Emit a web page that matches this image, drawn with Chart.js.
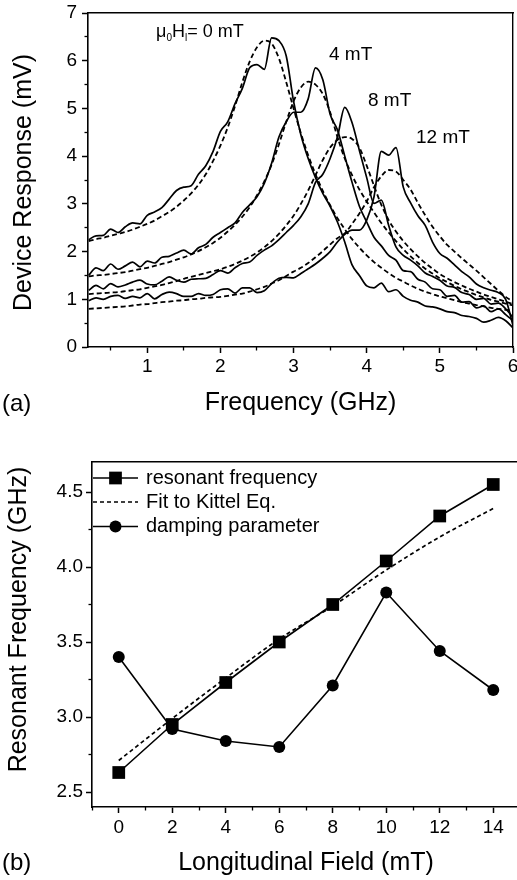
<!DOCTYPE html>
<html><head><meta charset="utf-8">
<script src="https://cdn.jsdelivr.net/npm/chart.js@4.4.1/dist/chart.umd.min.js"></script>
<style>
html,body{margin:0;padding:0;background:#fff;width:517px;height:880px;overflow:hidden;position:relative;font-family:'Liberation Sans',Arial,sans-serif;color:#000;}
#wa{position:absolute;left:0;top:0;width:517px;height:420px;}
#wb{position:absolute;left:0;top:440px;width:540px;height:440px;}
.lbl{position:absolute;white-space:nowrap;line-height:1;}
.lbl sub{font-size:10px;vertical-align:-4px;line-height:0;}
.rot{position:absolute;width:400px;height:25px;line-height:25px;font-size:25px;text-align:center;white-space:nowrap;transform:rotate(-90deg);}
</style></head><body>
<div id="wa"><canvas id="ca"></canvas></div>
<div id="wb"><canvas id="cb"></canvas></div>
<div class="lbl" style="left:156px;top:22px;font-size:18px">&mu;<sub>0</sub>H<sub>l</sub>= 0 mT</div>
<div class="lbl" style="left:329px;top:44px;font-size:19px">4 mT</div>
<div class="lbl" style="left:368px;top:90px;font-size:19px">8 mT</div>
<div class="lbl" style="left:416px;top:127px;font-size:19px">12 mT</div>
<div class="lbl" style="left:2px;top:391px;font-size:24px">(a)</div>
<div class="lbl" style="left:2px;top:850px;font-size:24px">(b)</div>
<div class="rot" style="left:-178px;top:170px">Device Response (mV)</div>
<div class="rot" style="left:-183px;top:607px">Resonant Frequency (GHz)</div>
<script>
// ---------- Panel (a) data ----------
const freqGHz = [0.2,0.3,0.4,0.5,0.6,0.7,0.8,0.9,1.0,1.1,
 1.2,1.3,1.4,1.5,1.6,1.7,1.8,1.9,2.0,2.1,
 2.2,2.3,2.4,2.5,2.6,2.7,2.8,2.9,3.0,3.1,
 3.2,3.3,3.4,3.5,3.6,3.7,3.8,3.9,4.0,4.1,
 4.2,4.3,4.4,4.5,4.6,4.7,4.8,4.9,5.0,5.1,
 5.2,5.3,5.4,5.5,5.6,5.7,5.8,5.9,6.0];
const resp0mT = [2.25,2.33,2.34,2.47,2.40,2.52,2.60,2.58,2.76,2.83,
 2.92,3.10,3.28,3.35,3.38,3.62,3.80,4.10,4.52,4.72,
 5.10,5.42,5.85,5.92,5.82,6.48,6.42,6.10,5.15,4.45,
 3.95,3.55,3.22,2.95,2.62,2.20,1.72,1.50,1.28,1.24,
 1.34,1.16,1.20,1.06,0.98,0.94,0.86,0.84,0.80,0.74,
 0.72,0.66,0.64,0.60,0.52,0.56,0.62,0.55,0.40];
const fit0mT = [2.22,2.26,2.29,2.33,2.37,2.41,2.46,2.52,2.58,2.65,
 2.74,2.83,2.94,3.07,3.22,3.40,3.62,3.90,4.22,4.60,
 5.05,5.55,5.98,6.28,6.42,6.36,6.05,5.55,5.00,4.48,
 4.02,3.62,3.27,2.97,2.70,2.47,2.26,2.08,1.92,1.78,
 1.66,1.55,1.45,1.37,1.29,1.22,1.16,1.11,1.06,1.02,
 0.98,0.94,0.91,0.88,0.85,0.82,0.80,0.78,0.76];
const resp4mT = [1.50,1.66,1.60,1.74,1.63,1.70,1.78,1.68,1.80,1.76,
 1.88,1.90,1.97,2.03,1.95,2.08,2.15,2.30,2.40,2.50,
 2.60,2.82,2.98,3.15,3.43,3.85,4.40,4.72,4.92,4.92,
 5.20,5.85,5.60,4.88,4.55,4.00,3.45,2.95,2.62,2.30,
 2.12,1.92,1.82,1.60,1.58,1.42,1.36,1.22,1.20,1.06,
 1.08,0.94,0.95,0.82,0.86,0.74,0.80,0.68,0.55];
const fit4mT = [1.48,1.50,1.51,1.53,1.55,1.57,1.60,1.63,1.66,1.70,
 1.74,1.78,1.83,1.88,1.94,2.01,2.09,2.18,2.29,2.42,
 2.56,2.73,2.93,3.18,3.47,3.82,4.25,4.72,5.15,5.44,
 5.56,5.50,5.30,4.92,4.40,3.95,3.60,3.30,3.05,2.82,
 2.60,2.40,2.22,2.05,1.90,1.76,1.64,1.54,1.44,1.36,
 1.28,1.21,1.15,1.09,1.04,0.99,0.95,0.91,0.87];
const resp8mT = [1.19,1.29,1.22,1.33,1.26,1.30,1.36,1.40,1.32,1.30,
 1.38,1.47,1.40,1.36,1.42,1.43,1.44,1.52,1.60,1.55,
 1.66,1.75,1.78,1.92,2.03,2.12,2.25,2.40,2.55,2.73,
 3.00,3.45,3.62,3.95,4.40,5.02,4.70,4.12,3.55,3.01,
 3.08,2.55,2.10,1.92,1.82,1.70,1.55,1.48,1.40,1.28,
 1.25,1.14,1.10,1.00,1.02,0.90,0.92,0.80,0.62];
const fit8mT = [1.11,1.12,1.13,1.14,1.15,1.17,1.19,1.21,1.24,1.27,
 1.30,1.34,1.38,1.43,1.47,1.51,1.55,1.59,1.63,1.68,
 1.74,1.81,1.89,1.98,2.09,2.22,2.37,2.55,2.75,3.00,
 3.28,3.60,3.92,4.18,4.34,4.40,4.36,4.18,3.80,3.38,
 2.98,2.66,2.42,2.22,2.05,1.90,1.76,1.64,1.53,1.44,
 1.36,1.29,1.22,1.16,1.10,1.05,1.00,0.95,0.90];
const resp12mT = [0.97,1.03,1.00,1.06,1.08,1.02,1.06,1.03,1.12,1.01,
 1.10,1.15,1.12,1.06,1.06,1.12,1.08,1.10,1.20,1.22,
 1.13,1.24,1.24,1.14,1.18,1.33,1.44,1.46,1.45,1.54,
 1.64,1.74,1.86,2.00,2.20,2.36,2.45,2.45,2.66,3.15,
 4.10,4.02,4.18,3.35,3.02,2.75,2.55,2.20,1.96,1.86,
 1.72,1.58,1.47,1.32,1.24,1.19,1.14,1.00,0.45];
const fit12mT = [0.80,0.81,0.82,0.83,0.84,0.85,0.87,0.89,0.90,0.92,
 0.94,0.95,0.97,0.98,1.00,1.01,1.03,1.04,1.05,1.07,
 1.10,1.12,1.16,1.21,1.26,1.33,1.40,1.49,1.58,1.66,
 1.76,1.88,2.01,2.15,2.28,2.38,2.58,2.80,3.05,3.35,
 3.58,3.71,3.68,3.50,3.30,3.02,2.76,2.52,2.32,2.14,
 2.00,1.86,1.73,1.60,1.46,1.32,1.18,1.05,0.95];
const aXTicks = [1,2,3,4,5,6];
const aXLabels = ['1','2','3','4','5','6'];
const aXMinor = [0.5,1.5,2.5,3.5,4.5,5.5];
const aYTicks = [0,1,2,3,4,5,6,7];
const aYLabels = ['0','1','2','3','4','5','6','7'];
const aYMinor = [0.5,1.5,2.5,3.5,4.5,5.5,6.5];

// ---------- Panel (b) data ----------
const fieldMT = [0,2,4,6,8,10,12,14];
const resonantGHz = [2.63,2.95,3.23,3.50,3.75,4.04,4.34,4.55];
const kittelFitGHz = [2.71,2.99,3.26,3.52,3.74,3.98,4.20,4.39];
const dampingParam = [3.40,2.92,2.84,2.80,3.21,3.83,3.44,3.18];
const bXTicks = [0,2,4,6,8,10,12,14];
const bXLabels = ['0','2','4','6','8','10','12','14'];
const bXMinor = [-1,1,3,5,7,9,11,13,15];
const bYTicks = [2.5,3.0,3.5,4.0,4.5];
const bYLabels = ['2.5','3.0','3.5','4.0','4.5'];
const bYMinor = [2.75,3.25,3.75,4.25];

Chart.defaults.font.family = "'Liberation Sans', Arial, sans-serif";
Chart.defaults.color = '#000';

function setTicks(arr){ return s => { s.ticks = arr.map(v => ({value: v})); }; }
function fitH(h){ return s => { s.height = h; s.paddingLeft = 0; s.paddingRight = 0; }; }
function fitW(w){ return s => { s.width = w; s.paddingTop = 0; s.paddingBottom = 0; }; }

function axes(cfg){
  const o = {};
  o.x = {type:'linear', min:cfg.xmin, max:cfg.xmax, position:'bottom', weight:2,
    afterBuildTicks:setTicks(cfg.xt), afterFit:fitH(cfg.xh),
    ticks:{callback:(v,i)=>cfg.xl[i], font:{size:19}, color:'#000', padding:cfg.xpad, maxRotation:0, autoSkip:false},
    grid:{drawOnChartArea:false, drawTicks:true, tickLength:6, tickWidth:1.5, tickColor:'#000'},
    border:{display:true, color:'#000', width:1.6},
    title:{display:true, text:cfg.xtitle, font:{size:25}, color:'#000', padding:{top:0, bottom:cfg.tpad}}};
  o.xMinor = {type:'linear', min:cfg.xmin, max:cfg.xmax, position:'bottom', weight:1,
    afterBuildTicks:setTicks(cfg.xm), afterFit:fitH(0),
    ticks:{display:false}, grid:{drawOnChartArea:false, drawTicks:true, tickLength:3.5, tickWidth:1.3, tickColor:'#000'},
    border:{display:false}};
  o.xTop = {type:'linear', min:cfg.xmin, max:cfg.xmax, position:'top',
    afterBuildTicks:setTicks([]), afterFit:fitH(0),
    ticks:{display:false}, grid:{drawOnChartArea:false, drawTicks:false},
    border:{display:true, color:'#000', width:1.4}};
  o.y = {type:'linear', min:cfg.ymin, max:cfg.ymax, position:'left', weight:2,
    afterBuildTicks:setTicks(cfg.yt), afterFit:fitW(cfg.yw),
    ticks:{callback:(v,i)=>cfg.yl[i], font:{size:19}, color:'#000', padding:cfg.ypad, autoSkip:false},
    grid:{drawOnChartArea:false, drawTicks:true, tickLength:6, tickWidth:1.5, tickColor:'#000'},
    border:{display:true, color:'#000', width:1.6}};
  o.yMinor = {type:'linear', min:cfg.ymin, max:cfg.ymax, position:'left', weight:1,
    afterBuildTicks:setTicks(cfg.ym), afterFit:fitW(0),
    ticks:{display:false}, grid:{drawOnChartArea:false, drawTicks:true, tickLength:3.5, tickWidth:1.3, tickColor:'#000'},
    border:{display:false}};
  o.yRight = {type:'linear', min:cfg.ymin, max:cfg.ymax, position:'right',
    afterBuildTicks:setTicks([]), afterFit:fitW(0),
    ticks:{display:false}, grid:{drawOnChartArea:false, drawTicks:false},
    border:{display:true, color:'#000', width:1.4}};
  return o;
}

function curve(vals, dashed){
  return {data: freqGHz.map((f,i)=>({x:f, y:vals[i]})),
    borderColor:'#000', borderWidth: dashed ? 1.8 : 1.7, borderDash: dashed ? [5,3] : [],
    pointRadius:0, cubicInterpolationMode:'monotone', fill:false};
}

new Chart(document.getElementById('ca'), {
  type:'line',
  data:{datasets:[
    curve(resp0mT,false), curve(fit0mT,true),
    curve(resp4mT,false), curve(fit4mT,true),
    curve(resp8mT,false), curve(fit8mT,true),
    curve(resp12mT,false), curve(fit12mT,true)
  ]},
  options:{responsive:true, maintainAspectRatio:false, animation:false,
    layout:{padding:{left:0, top:13, right:4, bottom:0}},
    plugins:{legend:{display:false}, tooltip:{enabled:false}},
    scales: axes({xmin:0.19, xmax:6.0, xt:aXTicks, xl:aXLabels, xm:aXMinor, xh:73, xpad:2,
      xtitle:'Frequency (GHz)', tpad:2,
      ymin:0, ymax:7, yt:aYTicks, yl:aYLabels, ym:aYMinor, yw:88, ypad:5})
  }
});

const legendB = {
  id:'legendB',
  afterDraw(chart){
    const {ctx, chartArea} = chart;
    const rows = [16, 40, 64.5];
    ctx.save();
    chart.data.datasets.forEach((ds,i)=>{
      const y = chartArea.top + rows[i];
      const x0 = chartArea.left + 1, x1 = chartArea.left + 46;
      ctx.strokeStyle = '#000'; ctx.lineWidth = 1.6;
      ctx.setLineDash(ds.borderDash || []);
      ctx.beginPath(); ctx.moveTo(x0,y); ctx.lineTo(x1,y); ctx.stroke();
      ctx.setLineDash([]);
      if (ds.pointRadius > 0) {
        ctx.fillStyle = '#000';
        Chart.helpers.drawPoint(ctx, {pointStyle:ds.pointStyle, radius:ds.pointRadius, rotation:0, borderWidth:0}, (x0+x1)/2, y);
      }
      ctx.font = "20px 'Liberation Sans', Arial, sans-serif";
      ctx.fillStyle = '#000'; ctx.textBaseline = 'middle'; ctx.textAlign = 'left';
      ctx.fillText(ds.label, chartArea.left + 54, y);
    });
    ctx.restore();
  }
};

new Chart(document.getElementById('cb'), {
  type:'line',
  data:{datasets:[
    {label:'resonant frequency', data: fieldMT.map((x,i)=>({x, y:resonantGHz[i]})),
      borderColor:'#000', backgroundColor:'#000', borderWidth:1.6, pointStyle:'rect', pointRadius:9,
      pointBorderWidth:0, tension:0},
    {label:'Fit to Kittel Eq.', data: fieldMT.map((x,i)=>({x, y:kittelFitGHz[i]})),
      borderColor:'#000', borderWidth:1.7, borderDash:[4,3], pointRadius:0, cubicInterpolationMode:'monotone'},
    {label:'damping parameter', data: fieldMT.map((x,i)=>({x, y:dampingParam[i]})),
      borderColor:'#000', backgroundColor:'#000', borderWidth:1.6, pointStyle:'circle', pointRadius:6,
      pointBorderWidth:0, tension:0}
  ]},
  options:{responsive:true, maintainAspectRatio:false, animation:false,
    layout:{padding:{left:0, top:22, right:20, bottom:0}},
    plugins:{legend:{display:false}, tooltip:{enabled:false}},
    scales: axes({xmin:-1, xmax:15, xt:bXTicks, xl:bXLabels, xm:bXMinor, xh:73, xpad:3,
      xtitle:'Longitudinal Field (mT)', tpad:2,
      ymin:2.4, ymax:4.7, yt:bYTicks, yl:bYLabels, ym:bYMinor, yw:92, ypad:3})
  },
  plugins:[legendB]
});
</script>
</body></html>
